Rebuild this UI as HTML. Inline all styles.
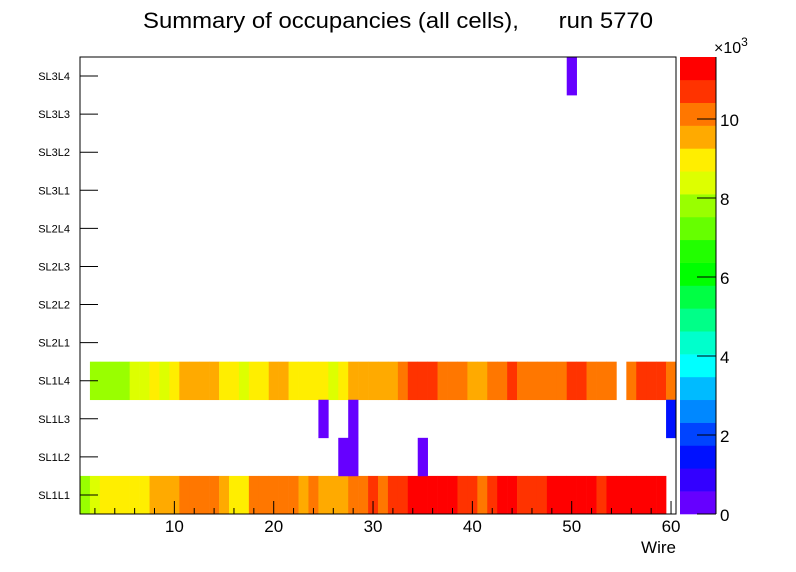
<!DOCTYPE html>
<html><head><meta charset="utf-8"><style>
html,body{margin:0;padding:0;background:#fff;}
svg{display:block;font-family:"Liberation Sans",Arial,sans-serif;}
</style></head><body>
<svg id="chart" width="796" height="572" viewBox="0 0 796 572">
<text x="398" y="28" text-anchor="middle" font-size="22" textLength="510" lengthAdjust="spacingAndGlyphs" style="white-space:pre">Summary of occupancies (all cells),&#160;&#160;&#160;&#160;&#160;&#160;run 5770</text>
<g id="cells"></g>
<rect x="80" y="57" width="596" height="457" fill="none" stroke="#000" stroke-width="1"/>
<g id="axes"></g>
<g id="palette"></g>
<text x="676" y="553" text-anchor="end" font-size="17">Wire</text>
<text x="714" y="53" font-size="16">×10<tspan dy="-7" font-size="12">3</tspan></text>
</svg>
<script>
const layers = ["SL1L1","SL1L2","SL1L3","SL1L4","SL2L1","SL2L2","SL2L3","SL2L4","SL3L1","SL3L2","SL3L3","SL3L4"];
const xTicks = [10,20,30,40,50,60];
const zTicks = [0,2,4,6,8,10];
const zMax = 11.57;
// values in thousands, wires 1..60 (null = empty)
const sl1l1 = [7.8,8.4,9.0,9.0,9.0,9.0,9.0,9.55,9.55,9.55,10.1,10.1,10.1,10.1,9.55,9.0,9.0,10.1,10.1,10.1,10.1,10.1,9.55,10.1,9.55,9.55,9.55,10.1,10.1,10.7,10.1,10.7,10.7,11.3,11.3,11.3,11.3,11.3,10.7,10.7,10.1,10.7,11.3,11.3,10.7,10.7,10.7,11.3,11.3,11.3,11.3,11.3,10.7,11.3,11.3,11.3,11.3,11.3,11.3,null];
const sl1l4 = [null,7.8,7.8,7.8,7.8,8.4,8.4,9.0,8.4,9.0,9.55,9.55,9.55,9.55,9.0,9.0,8.4,9.0,9.0,9.55,9.55,9.0,9.0,9.0,9.0,8.4,9.0,9.55,9.55,9.55,9.55,9.55,10.1,10.7,10.7,10.7,10.1,10.1,10.1,9.55,9.55,10.1,10.1,10.7,10.1,10.1,10.1,10.1,10.1,10.7,10.7,10.1,10.1,10.1,null,10.1,10.7,10.7,10.7,10.1];
const sparseWires = [27,28,35,25,28,60,50];
const sparseRows  = [1,1,1,2,2,2,11];
const sparseVals  = [0.3,0.3,0.3,0.3,0.3,1.45,0.3];
const colors = ["#6600ff","#3300ff","#0011ff","#0044ff","#0088ff","#00bbff","#00ffff","#00ffcc","#00ff88","#00ff44","#00ff00","#22ff00","#66ff00","#99ff00","#ddff00","#ffee00","#ffaa00","#ff7700","#ff3300","#ff0000"];

const NS="http://www.w3.org/2000/svg";
const X0=80,X1=676,Y0=57,Y1=514;
const xMin=0.5,xMax=60.5;
const xs=v=>X0+(v-xMin)/(xMax-xMin)*(X1-X0);
const rowH=(Y1-Y0)/layers.length;
const ys=i=>Y1-(i+1)*rowH;
const zs=v=>Y1-v/zMax*(Y1-Y0);
const col=v=>colors[Math.max(0,Math.min(colors.length-1,Math.floor(v/zMax*colors.length)))];
function mk(t,a,p){const e=document.createElementNS(NS,t);for(const k in a)e.setAttribute(k,a[k]);p.appendChild(e);return e;}
const cells=document.getElementById('cells');
function cell(w,r,v){
  const e=mk('rect',{x:xs(w-0.5),y:ys(r),width:xs(w+0.5)-xs(w-0.5)+0.3,height:rowH+0.3,fill:col(v)},cells);
  
  
}
sl1l1.forEach((v,i)=>{if(v!=null)cell(i+1,0,v);});
sl1l4.forEach((v,i)=>{if(v!=null)cell(i+1,3,v);});
sparseWires.forEach((w,i)=>cell(w,sparseRows[i],sparseVals[i]));

const axes=document.getElementById('axes');
layers.forEach((l,i)=>{
  const yc=ys(i)+rowH/2;
  const t=mk('line',{x1:X0,x2:X0+18,y1:yc,y2:yc,stroke:'#000','stroke-width':1},axes);
  
  
  const tx=mk('text',{x:70,y:yc+4,'text-anchor':'end','font-size':11},axes);
  tx.textContent=l;
  
  
});
for(let v=2;v<=60;v+=2){
  const major=v%10===0;
  const t=mk('line',{x1:xs(v),x2:xs(v),y1:Y1,y2:Y1-(major?13:6),stroke:'#000','stroke-width':1},axes);
  
  
}
xTicks.forEach(v=>{
  const tx=mk('text',{x:xs(v),y:532,'text-anchor':'middle','font-size':17},axes);
  tx.textContent=v;
  
  
});
const pal=document.getElementById('palette');
colors.forEach((c,i)=>{
  const lo=i*zMax/colors.length,hi=(i+1)*zMax/colors.length;
  const r=mk('rect',{x:680,y:zs(hi),width:36,height:zs(lo)-zs(hi)+0.3,fill:c},pal);
  
  
});
zTicks.forEach(v=>{
  const t=mk('line',{x1:697,x2:716,y1:zs(v),y2:zs(v),stroke:'#000','stroke-width':1},pal);
  
  
  const tx=mk('text',{x:720,y:zs(v)+7,'font-size':17},pal);
  tx.textContent=v;
  
  
});
const ax=mk('line',{x1:716,x2:716,y1:Y0,y2:Y1,stroke:'#000','stroke-width':1},pal);


</script>
</body></html>
